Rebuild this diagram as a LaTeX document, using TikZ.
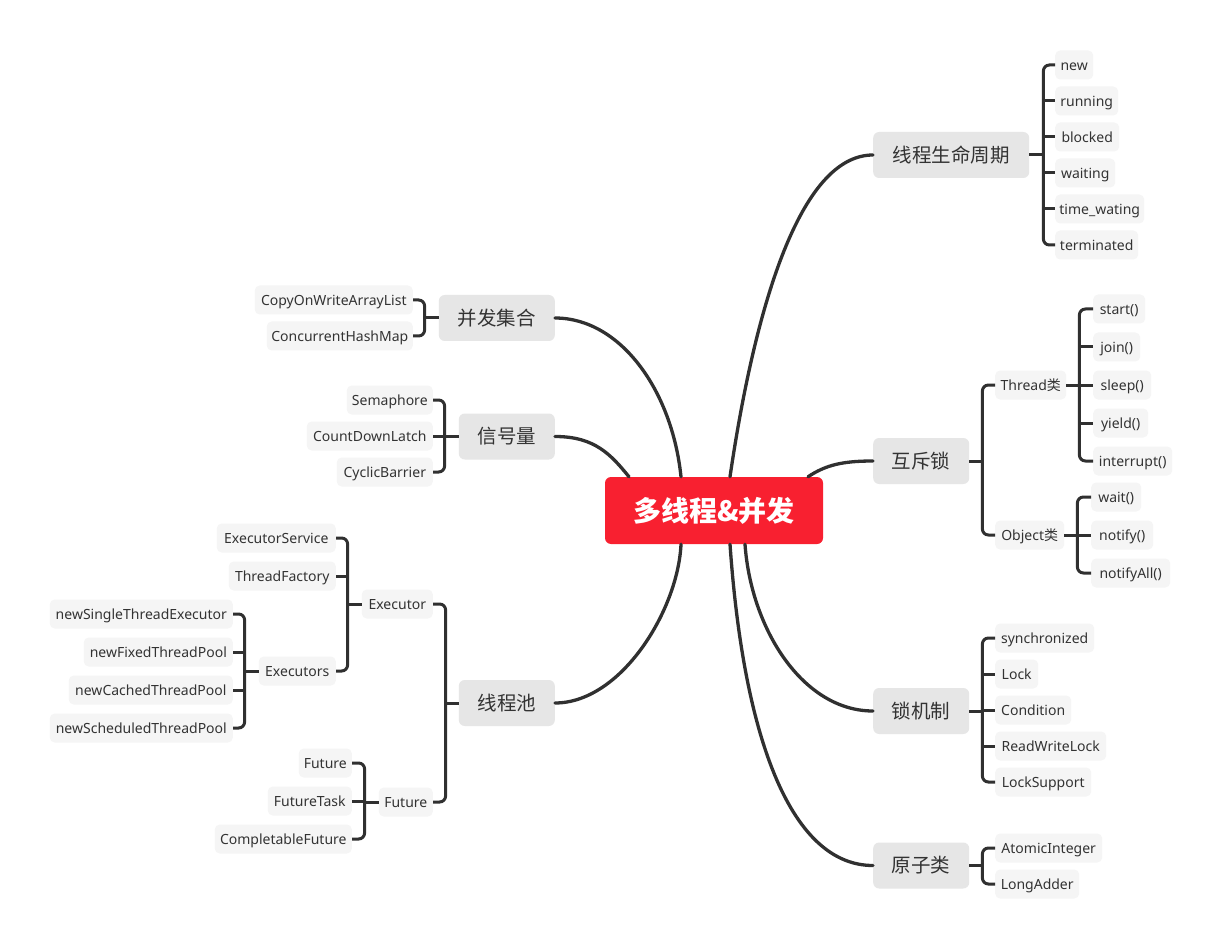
\documentclass[tikz,border=0pt]{standalone}
\usepackage{fontspec}
\setmainfont{Noto Sans}
\newfontfamily\cjk{Noto Sans CJK SC}
\usetikzlibrary{calc}

\definecolor{ink}{RGB}{51,51,51}
\definecolor{wire}{RGB}{48,48,48}
\definecolor{hubred}{RGB}{248,32,48}
\definecolor{topicgray}{RGB}{230,230,230}
\definecolor{leafgray}{RGB}{245,245,245}

\tikzset{
  hubnode/.style={fill=hubred, rounded corners=6pt, text=white, inner sep=0pt,
    minimum width=218pt, minimum height=67pt, text height=22pt, text depth=0.8pt,
    font=\cjk\bfseries\fontsize{28}{32}\selectfont},
  topic/.style={fill=topicgray, rounded corners=6pt, text=ink, inner sep=0pt,
    minimum height=46pt, text height=16pt, text depth=1.2pt,
    font=\cjk\fontsize{19.5}{22}\selectfont},
  leaf/.style={fill=leafgray, rounded corners=5pt, text=ink, inner sep=0pt,
    minimum height=29pt, text height=11.5pt, text depth=1pt,
    font=\fontsize{14}{16}\selectfont},
  branch/.style={draw=wire, line width=3.3pt, line cap=round},
  fork/.style={draw=wire, line width=3pt},
}

% bracket from a parent to its first and last child; #1 parent side, #2 parent,
% #3 offset of the bar, #4 first child anchor, #5 last child anchor
\newcommand\forkto[5]{%
  \coordinate (bar-#2) at ($(#2.#1)+(#3,0)$);
  \draw[fork] (#2.#1) -- (bar-#2);
  \draw[fork,rounded corners=6pt] (#4) -- (#4 -| bar-#2) -- (#5 -| bar-#2) -- (#5);
}
\newcommand\stub[2]{\draw[fork] (#2 -| bar-#1) -- (#2);}

\begin{document}
\begin{tikzpicture}[x=1pt,y=-1pt]
\useasboundingbox[fill=white] (0,0) rectangle (1223,949);

% central topic
\node[hubnode] (hub) at (714,510.5) {多线程\&并发};

% main topics, right side
\node[topic, anchor=west, minimum width=156pt] (life)   at (873,155)   {线程生命周期};
\node[topic, anchor=west, minimum width=96pt]  (mutex)  at (873,461)   {互斥锁};
\node[topic, anchor=west, minimum width=96pt]  (lockm)  at (873,711)   {锁机制};
\node[topic, anchor=west, minimum width=96pt]  (atomic) at (873,865.5) {原子类};

% main topics, left side
\node[topic, anchor=east, minimum width=116pt] (coll) at (555,318)   {并发集合};
\node[topic, anchor=east, minimum width=96pt]  (sem)  at (555,436.5) {信号量};
\node[topic, anchor=east, minimum width=96pt]  (pool) at (555,703)   {线程池};

% thread life cycle
\node[leaf, anchor=west, minimum width=38pt] (l1) at (1055,65)  {new};
\node[leaf, anchor=west, minimum width=63pt] (l2) at (1055,101) {running};
\node[leaf, anchor=west, minimum width=64pt] (l3) at (1055,137) {blocked};
\node[leaf, anchor=west, minimum width=60pt] (l4) at (1055,173) {waiting};
\node[leaf, anchor=west, minimum width=89pt] (l5) at (1055,209) {time\_wating};
\node[leaf, anchor=west, minimum width=83pt] (l6) at (1055,245) {terminated};

% mutual exclusion
\node[leaf, anchor=west, minimum width=71pt] (thr) at (995,385) {Thread{\cjk 类}};
\node[leaf, anchor=west, minimum width=69pt] (obj) at (995,535) {Object{\cjk 类}};
\node[leaf, anchor=west, minimum width=52pt] (t1) at (1093,309) {start()};
\node[leaf, anchor=west, minimum width=47pt] (t2) at (1093,347) {join()};
\node[leaf, anchor=west, minimum width=58pt] (t3) at (1093,385) {sleep()};
\node[leaf, anchor=west, minimum width=55pt] (t4) at (1093,423) {yield()};
\node[leaf, anchor=west, minimum width=79pt] (t5) at (1093,461) {interrupt()};
\node[leaf, anchor=west, minimum width=50pt] (o1) at (1091,497) {wait()};
\node[leaf, anchor=west, minimum width=62pt] (o2) at (1091,535) {notify()};
\node[leaf, anchor=west, minimum width=79pt] (o3) at (1091,573) {notifyAll()};

% locking
\node[leaf, anchor=west, minimum width=99pt]  (k1) at (995,638) {synchronized};
\node[leaf, anchor=west, minimum width=43pt]  (k2) at (995,674) {Lock};
\node[leaf, anchor=west, minimum width=76pt]  (k3) at (995,710) {Condition};
\node[leaf, anchor=west, minimum width=111pt] (k4) at (995,746) {ReadWriteLock};
\node[leaf, anchor=west, minimum width=96pt]  (k5) at (995,782) {LockSupport};

% atomics
\node[leaf, anchor=west, minimum width=107pt] (a1) at (995,848) {AtomicInteger};
\node[leaf, anchor=west, minimum width=84pt]  (a2) at (995,884) {LongAdder};

% concurrent collections
\node[leaf, anchor=east, minimum width=158pt] (c1) at (413,300) {CopyOnWriteArrayList};
\node[leaf, anchor=east, minimum width=146pt] (c2) at (413,336) {ConcurrentHashMap};

% semaphores
\node[leaf, anchor=east, minimum width=86pt]  (s1) at (433,400) {Semaphore};
\node[leaf, anchor=east, minimum width=126pt] (s2) at (433,436) {CountDownLatch};
\node[leaf, anchor=east, minimum width=96pt]  (s3) at (433,472) {CyclicBarrier};

% thread pool
\node[leaf, anchor=east, minimum width=71pt] (exe) at (433,604) {Executor};
\node[leaf, anchor=east, minimum width=54pt] (fut) at (433,802) {Future};
\node[leaf, anchor=east, minimum width=119pt] (e1) at (336,538) {ExecutorService};
\node[leaf, anchor=east, minimum width=107pt] (e2) at (336,576) {ThreadFactory};
\node[leaf, anchor=east, minimum width=77pt]  (e3) at (336,671) {Executors};
\node[leaf, anchor=east, minimum width=183pt] (x1) at (233,614) {newSingleThreadExecutor};
\node[leaf, anchor=east, minimum width=149pt] (x2) at (233,652) {newFixedThreadPool};
\node[leaf, anchor=east, minimum width=164pt] (x3) at (233,690) {newCachedThreadPool};
\node[leaf, anchor=east, minimum width=183pt] (x4) at (233,728) {newScheduledThreadPool};
\node[leaf, anchor=east, minimum width=53pt]  (f1) at (352,763) {Future};
\node[leaf, anchor=east, minimum width=84pt]  (f2) at (352,801) {FutureTask};
\node[leaf, anchor=east, minimum width=137pt] (f3) at (352,839) {CompletableFuture};

% curved branches from the central topic
\draw[branch] ($(hub.north)+(16,0)$) .. controls +(25,-170) and +(-73,0) .. (life.west);
\draw[branch] ($(hub.north)+(94,0)$) .. controls +(18,-12) and +(-30,0) .. (mutex.west);
\draw[branch] ($(hub.south)+(31,0)$) .. controls +(6,85) and +(-70,0) .. (lockm.west);
\draw[branch] ($(hub.south)+(16,0)$) .. controls +(14,200) and +(-80,0) .. (atomic.west);
\draw[branch] (coll.east) .. controls +(65,0) and +(-9,-87) .. ($(hub.north)+(-33,0)$);
\draw[branch] (sem.east)  .. controls +(40,0) and +(-18,-22) .. ($(hub.north)+(-85,0)$);
\draw[branch] (pool.east) .. controls +(66,0) and +(-3,66) .. ($(hub.south)+(-33,0)$);

% brackets, right side
\forkto{east}{life}{14}{l1.west}{l6.west}
\foreach \c in {l2,l3,l4,l5} {\stub{life}{\c.west}}
\forkto{east}{mutex}{13}{thr.west}{obj.west}
\forkto{east}{thr}{13}{t1.west}{t5.west}
\foreach \c in {t2,t3,t4} {\stub{thr}{\c.west}}
\forkto{east}{obj}{13}{o1.west}{o3.west}
\stub{obj}{o2.west}
\forkto{east}{lockm}{13}{k1.west}{k5.west}
\foreach \c in {k2,k3,k4} {\stub{lockm}{\c.west}}
\forkto{east}{atomic}{13}{a1.west}{a2.west}

% brackets, left side
\forkto{west}{coll}{-14}{c1.east}{c2.east}
\forkto{west}{sem}{-14}{s1.east}{s3.east}
\stub{sem}{s2.east}
\forkto{west}{pool}{-13}{exe.east}{fut.east}
\forkto{west}{exe}{-14}{e1.east}{e3.east}
\stub{exe}{e2.east}
\forkto{west}{e3}{-14}{x1.east}{x4.east}
\foreach \c in {x2,x3} {\stub{e3}{\c.east}}
\forkto{west}{fut}{-14}{f1.east}{f3.east}
\stub{fut}{f2.east}
\end{tikzpicture}
\end{document}
